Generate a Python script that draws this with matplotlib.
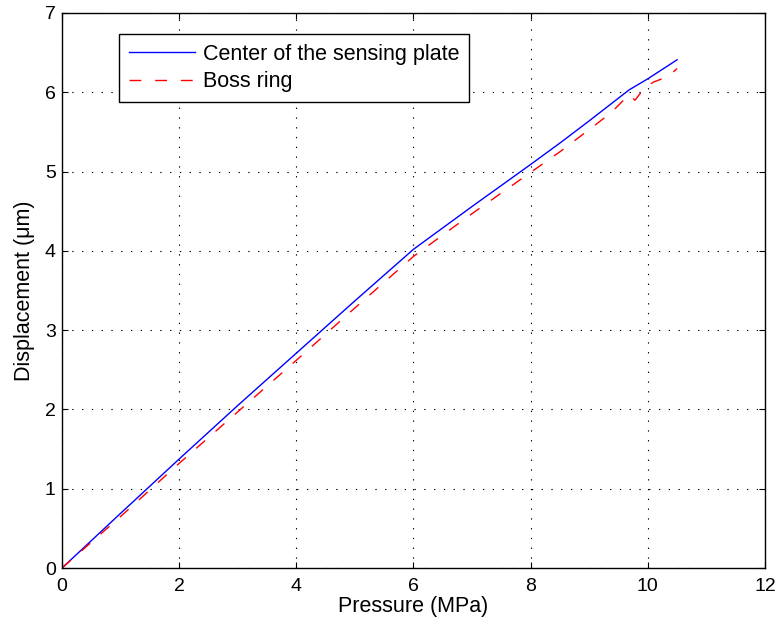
import matplotlib
matplotlib.use("Agg")
import matplotlib.pyplot as plt

plt.rcParams['font.family'] = ['Liberation Sans', 'DejaVu Sans']

# --- data ---
p_center = [0, 1, 2, 3, 4, 5, 6, 7, 8, 8.5, 9, 9.68, 10, 10.5]
d_center = [0, 0.69, 1.375, 2.05, 2.71, 3.37, 4.02, 4.56, 5.09, 5.36, 5.64, 6.03, 6.17, 6.41]

p_boss = [0, 1, 2, 3, 4, 5, 6, 7, 8, 8.5, 9, 9.37, 9.68, 9.78, 9.95, 10.1, 10.35, 10.5]
d_boss = [0, 0.65, 1.32, 1.97, 2.62, 3.28, 3.93, 4.47, 4.99, 5.25, 5.53, 5.74, 5.97, 5.9, 6.06, 6.13, 6.2, 6.3]

xticks = [0, 2, 4, 6, 8, 10, 12]
yticks = [0, 1, 2, 3, 4, 5, 6, 7]

fig = plt.figure(figsize=(7.79, 6.28), dpi=100)
ax = fig.add_axes([0.0796, 0.0955, 0.9024, 0.8838])

ax.plot(p_center, d_center, color='#0000ff', lw=1.0, label='Center of the sensing plate')
ax.plot(p_boss, d_boss, color='#ff0000', lw=1.0, linestyle=(0, (8.5, 10)), label='Boss ring')

ax.set_xlim(0, 12)
ax.set_ylim(0, 7)
ax.set_xticks(xticks)
ax.set_yticks(yticks)
ax.tick_params(direction='in', length=4, width=0.8, top=True, right=True,
               labelsize=14, colors='black')
ax.tick_params(axis='x', pad=7)
ax.tick_params(axis='y', pad=4.5)
for s in ax.spines.values():
    s.set_linewidth(1.0)
ax.grid(True, color='black', linestyle=(0, (1.2, 7.6)), linewidth=0.8)

ax.set_xlabel('Pressure (MPa)', fontsize=15.5, labelpad=1)
ax.set_ylabel('Displacement (\u03bcm)', fontsize=15.5, labelpad=7)

leg = ax.legend(loc='upper left', bbox_to_anchor=(0.081, 0.962), borderaxespad=0,
                fontsize=15.5, handlelength=3.07, handletextpad=0.37, fancybox=False,
                framealpha=1, edgecolor='black', borderpad=0.45, labelspacing=0.3)
leg.get_frame().set_linewidth(1.0)

fig.savefig('out.png', dpi=100)
